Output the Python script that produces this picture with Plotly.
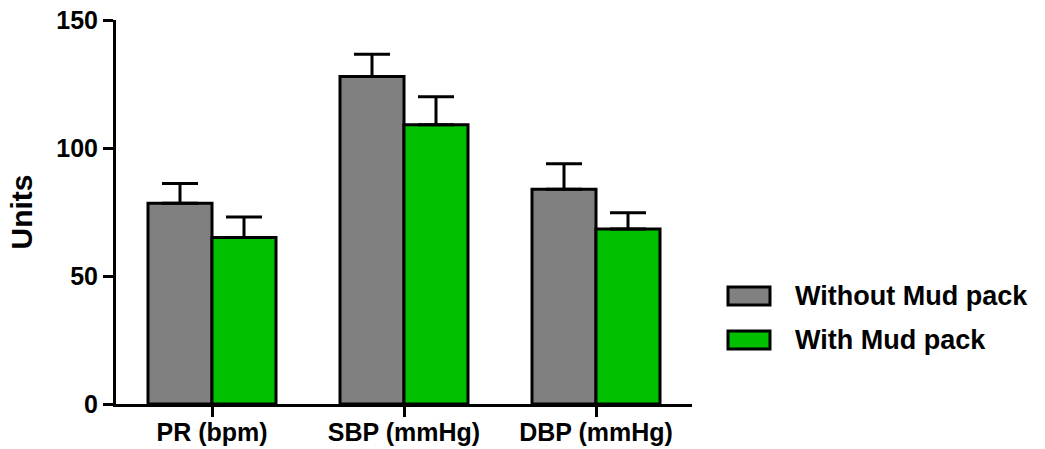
import plotly.graph_objects as go

categories = ["PR (bpm)", "SBP (mmHg)", "DBP (mmHg)"]
without_mud = [78.4, 127.9, 83.9]
without_err = [7.7, 8.7, 9.9]
with_mud = [65.0, 109.1, 68.4]
with_err = [8.0, 10.9, 6.3]
series_names = ["Without Mud pack", "With Mud pack"]
y_ticks = [0, 50, 100, 150]

FONT = "Liberation Sans, Arial, sans-serif"
GRAY = "#808080"
GREEN = "#00C000"

fig = go.Figure()
for name, vals, errs, col in [
    (series_names[0], without_mud, without_err, GRAY),
    (series_names[1], with_mud, with_err, GREEN),
]:
    fig.add_trace(go.Bar(
        x=categories, y=vals, name=name,
        marker=dict(color=col, line=dict(color="black", width=3)),
        error_y=dict(type="data", array=errs, arrayminus=[0] * len(errs),
                     symmetric=False, color="black", thickness=3, width=18),
        showlegend=False,
    ))

# custom legend (rectangular swatches like the reference)
legend_y = [0.2812, 0.1667]
for name, col, yc in zip(series_names, [GRAY, GREEN], legend_y):
    fig.add_shape(type="rect", xref="paper", yref="paper",
                  x0=1.0625, x1=1.1354, y0=yc - 0.0234, y1=yc + 0.0234,
                  fillcolor=col, line=dict(color="black", width=3))
    fig.add_annotation(xref="paper", yref="paper", x=1.1753, y=yc,
                       text="<b>" + name + "</b>", showarrow=False,
                       xanchor="left", yanchor="middle",
                       font=dict(family=FONT, size=27, color="black"))

fig.update_layout(
    width=1045, height=449,
    margin=dict(l=116, r=353, t=20, b=45),
    plot_bgcolor="white", paper_bgcolor="white",
    barmode="group", bargap=1/3, bargroupgap=0,
    font=dict(family=FONT, size=25, color="black"),
)
fig.update_xaxes(
    automargin=False,
    showline=True, linecolor="black", linewidth=3,
    ticks="outside", ticklen=10, tickwidth=3, tickcolor="black",
    tickfont=dict(family=FONT, size=25, color="black", weight="bold"),
    ticklabelstandoff=-6,
    showgrid=False, zeroline=False,
)
fig.update_yaxes(
    automargin=False,
    range=[0, 150], tickvals=y_ticks,
    showline=True, linecolor="black", linewidth=3,
    ticks="outside", ticklen=10, tickwidth=3, tickcolor="black",
    tickfont=dict(family=FONT, size=25, color="black", weight="bold"),
    ticklabeloverflow="allow",
    title=dict(text="<b>Units</b>", font=dict(family=FONT, size=30, color="black"), standoff=15),
    showgrid=False, zeroline=False,
)

fig.write_html("out.html", config={"displayModeBar": False},
               post_script="document.body.style.margin='0';")
